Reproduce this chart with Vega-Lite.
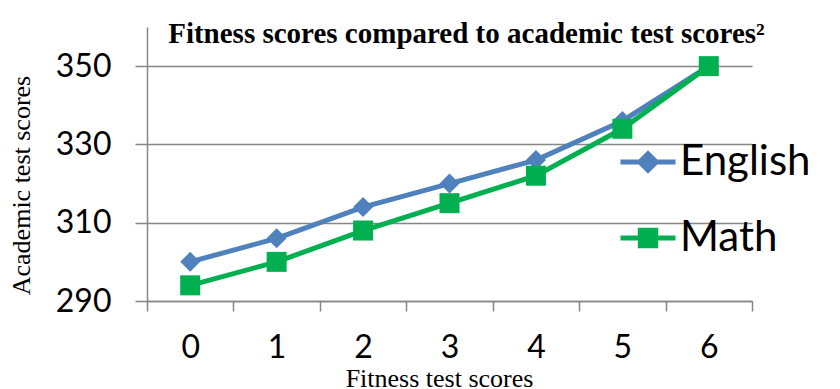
{
  "$schema": "https://vega.github.io/schema/vega-lite/v6.json",
  "width": 605,
  "height": 274,
  "autosize": {"type": "none"},
  "padding": {"left": 147, "top": 27, "right": 88, "bottom": 88},
  "background": "white",
  "config": {
    "view": {"stroke": null},
    "axis": {"labelColor": "black", "titleColor": "black", "titleFont": "Liberation Serif", "titleFontWeight": "normal", "titleFontSize": 26, "labelFont": "Lato", "labelFontSize": 32, "domainColor": "#868686", "tickColor": "#868686", "gridColor": "#868686", "domainWidth": 1.5, "tickWidth": 1.5, "gridWidth": 1.3}
  },
  "title": {
    "text": "Fitness scores compared to academic test scores²",
    "font": "Liberation Serif",
    "fontSize": 29,
    "fontWeight": "bold",
    "color": "black",
    "anchor": "middle",
    "baseline": "alphabetic",
    "offset": 0,
    "dx": 17,
    "dy": 45
  },
  "data": {
    "values": [
      {"fitness": 0, "series": "English", "score": 300},
      {"fitness": 1, "series": "English", "score": 306},
      {"fitness": 2, "series": "English", "score": 314},
      {"fitness": 3, "series": "English", "score": 320},
      {"fitness": 4, "series": "English", "score": 326},
      {"fitness": 5, "series": "English", "score": 336},
      {"fitness": 6, "series": "English", "score": 350},
      {"fitness": 0, "series": "Math", "score": 294},
      {"fitness": 1, "series": "Math", "score": 300},
      {"fitness": 2, "series": "Math", "score": 308},
      {"fitness": 3, "series": "Math", "score": 315},
      {"fitness": 4, "series": "Math", "score": 322},
      {"fitness": 5, "series": "Math", "score": 334},
      {"fitness": 6, "series": "Math", "score": 350}
    ]
  },
  "encoding": {
    "x": {
      "field": "fitness",
      "type": "quantitative",
      "scale": {"domain": [-0.5, 6.5], "nice": false, "zero": false},
      "axis": {
        "title": "Fitness test scores",
        "values": [-0.5, 0.5, 1.5, 2.5, 3.5, 4.5, 5.5, 6.5],
        "labelExpr": "datum.value > 6 ? '' : format(datum.value + 0.5, 'd')",
        "labelOffset": 43.2,
        "labelOverlap": false,
        "labelBound": false,
        "labelFlush": false,
        "grid": false,
        "tickSize": 10,
        "labelPadding": 21,
        "titleX": 292,
        "titleY": 85,
        "titleAlign": "center",
        "titleBaseline": "alphabetic"
      }
    },
    "y": {
      "field": "score",
      "type": "quantitative",
      "scale": {"domain": [290, 360], "nice": false, "zero": false},
      "axis": {
        "title": "Academic test scores",
        "values": [290, 310, 330, 350],
        "grid": true,
        "tickSize": 12,
        "labelPadding": 24,
        "titleX": -126,
        "titleY": 158,
        "titleAngle": -90,
        "titleAlign": "center",
        "titleBaseline": "middle"
      }
    },
    "color": {
      "field": "series",
      "type": "nominal",
      "scale": {"domain": ["English", "Math"], "range": ["#4F81BD", "#00B050"]},
      "legend": {
        "title": null,
        "orient": "none",
        "legendX": 471,
        "legendY": 105,
        "padding": 0,
        "symbolSize": 3025,
        "symbolStrokeWidth": 5,
        "labelFont": "Lato",
        "labelFontSize": 42,
        "labelColor": "black",
        "labelOffset": 2,
        "rowPadding": 25,
        "encode": {
          "symbols": {
            "update": {
              "shape": {"signal": "datum.value === 'English' ? 'M-1,0L1,0M-0.3,0L0,-0.3L0.3,0L0,0.3Z' : 'M-1,0L1,0M-0.28,-0.28L0.28,-0.28L0.28,0.28L-0.28,0.28Z'"},
              "fill": {"signal": "datum.value === 'English' ? '#4F81BD' : '#00B050'"},
              "stroke": {"signal": "datum.value === 'English' ? '#4F81BD' : '#00B050'"},
              "strokeWidth": {"value": 5},
              "opacity": {"value": 1},
              "fillOpacity": {"value": 1}
            }
          }
        }
      }
    }
  },
  "layer": [
    {"mark": {"type": "line", "strokeWidth": 5}},
    {
      "transform": [{"filter": "datum.series === 'English'"}],
      "mark": {"type": "point", "shape": "diamond", "filled": true, "size": 400, "opacity": 1}
    },
    {
      "transform": [{"filter": "datum.series === 'Math'"}],
      "mark": {"type": "point", "shape": "square", "filled": true, "size": 400, "opacity": 1}
    }
  ]
}
